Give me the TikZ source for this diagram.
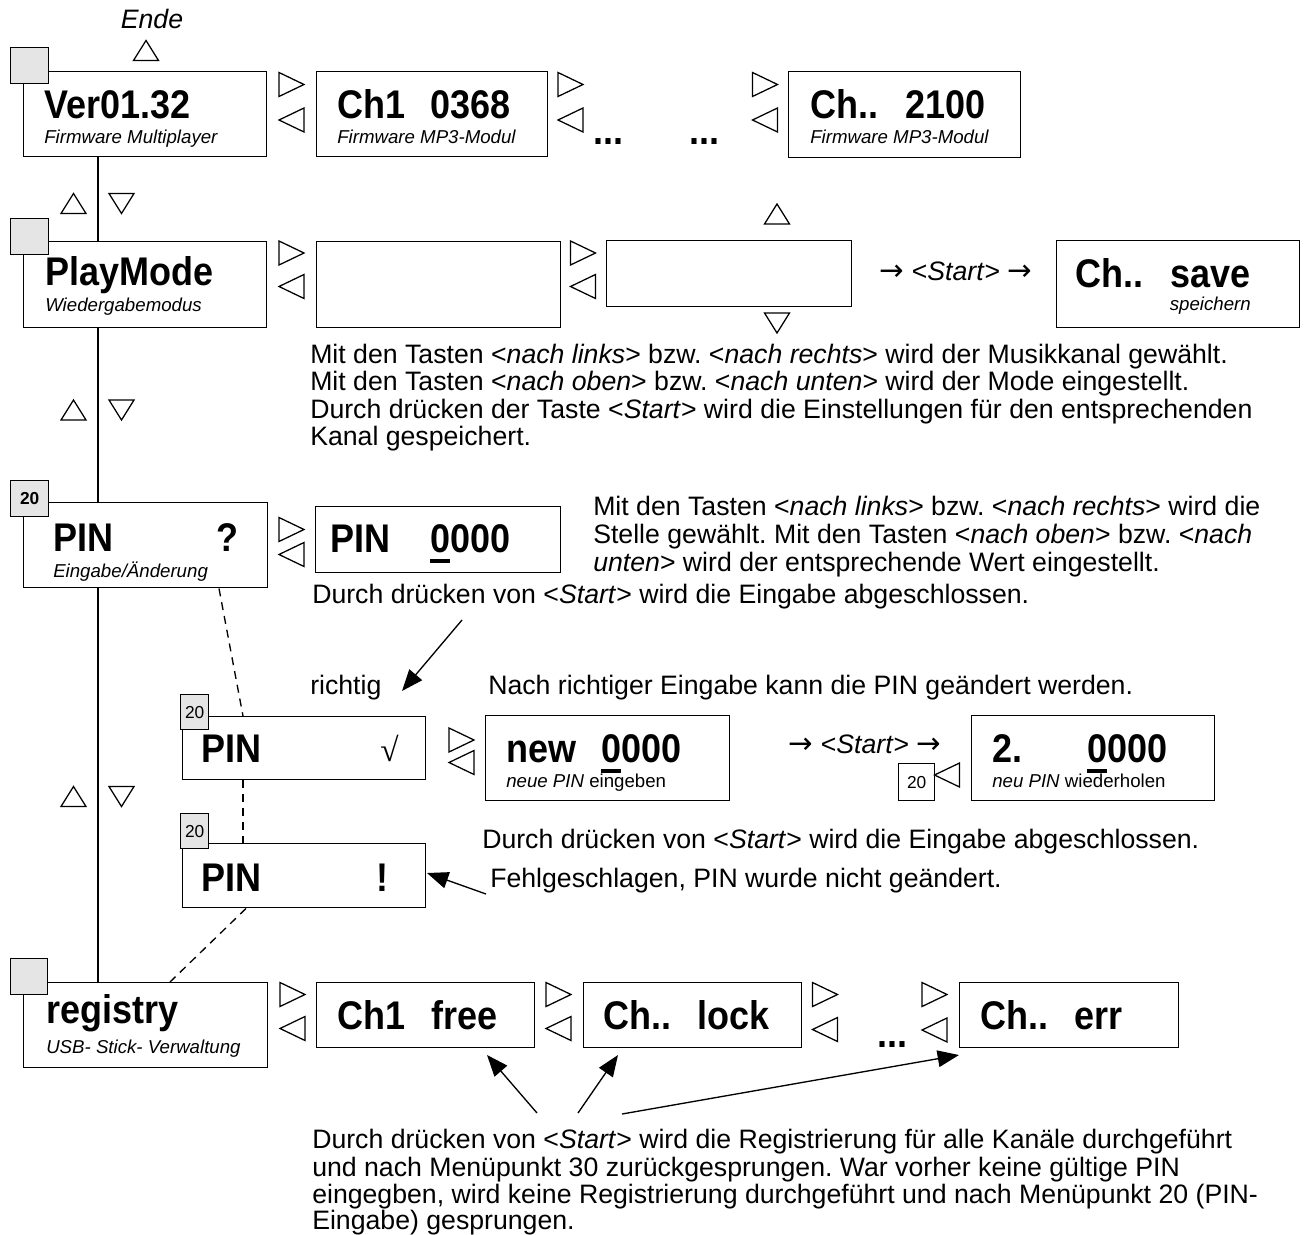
\documentclass[tikz,border=0pt]{standalone}
\usepackage{graphicx}
\usepackage{fontspec}
\setmainfont{Liberation Sans}
\newfontfamily\symfont{Liberation Serif}
\newfontfamily\arrowfont{DejaVu Sans}
\usetikzlibrary{arrows.meta}
\newcommand\arr{{\arrowfont\fontsize{22}{24}\selectfont →}}
\newcommand\nb[1]{\scalebox{0.9}[1]{#1}}
\begin{document}
\frenchspacing
\begin{tikzpicture}[x=0.75pt,y=-0.75pt,
  disp/.style={draw, line width=1.1pt, fill=white, inner sep=0pt, anchor=north west},
  wh/.style 2 args={minimum width=#1*0.75pt, minimum height=#2*0.75pt},
  graysq/.style={draw, line width=1pt, fill=black!10, inner sep=0pt, anchor=north west, font=\fontsize{13}{15}\selectfont},
  whitesq/.style={draw, line width=1pt, fill=white, inner sep=0pt, anchor=north west, font=\fontsize{13}{15}\selectfont},
  big/.style={inner sep=0pt, anchor=base west, font=\fontsize{30}{32}\selectfont\bfseries},
  bigr/.style={big, anchor=base east},
  sub/.style={inner sep=0pt, anchor=base west, font=\fontsize{14}{16}\selectfont\itshape},
  subn/.style={inner sep=0pt, anchor=base west, font=\fontsize{14}{16}\selectfont},
  txt/.style={inner sep=0pt, anchor=base west, font=\fontsize{20}{22}\selectfont},
  conn/.style={line width=1pt},
  dashconn/.style={line width=1pt, dash pattern=on 6pt off 4.5pt},
  pointer/.style={line width=1pt, -{Triangle[length=16pt,width=12.5pt]}},
  uline/.style={line width=2.6pt},
  tri/.style={line width=0.95pt},
  rtri/.pic={\draw[tri] (-12.5,-12) -- (12.5,0) -- (-12.5,12) -- cycle;},
  ltri/.pic={\draw[tri] (12.5,-12) -- (-12.5,0) -- (12.5,12) -- cycle;},
  utri/.pic={\draw[tri] (-12.5,10) -- (0,-10) -- (12.5,10) -- cycle;},
  dtri/.pic={\draw[tri] (-12.5,-10) -- (0,10) -- (12.5,-10) -- cycle;}
]
\useasboundingbox (0,0) rectangle (1305,1234);
\coordinate (vx) at (98,0);

% ---------------- Row 1 ----------------
\node[txt, anchor=base] (ende) at (152,29) {\itshape Ende};
\pic at (146,50.5) {utri};
\node[disp, wh={243}{85}] (ver) at (23,71) {};
\node[graysq, wh={38}{36}] (sq1) at (10,47) {};
\node[big] (vert) at (44,119) {\nb{Ver01.32}};
\node[sub] (vers) at (44,144) {Firmware Multiplayer};
\pic at (291.5,84.5) {rtri};
\pic at (291.5,120) {ltri};
\node[disp, wh={231}{85}] (ch1) at (316,71) {};
\node[big] (ch1a) at (337,119) {\nb{Ch1}};
\node[bigr] (ch1b) at (511,119) {\nb{0368}};
\node[sub] (ch1s) at (337,144) {Firmware MP3-Modul};
\pic at (570.5,84.5) {rtri};
\pic at (570.5,120) {ltri};
\node[big] (dots1) at (593,145) {\nb{...}};
\node[big] (dots2) at (689,145) {\nb{...}};
\pic at (765,84.5) {rtri};
\pic at (765,120) {ltri};
\node[disp, wh={232}{86}] (chn) at (788,71) {};
\node[big] (chna) at (810,119) {\nb{Ch..}};
\node[bigr] (chnb) at (986,119) {\nb{2100}};
\node[sub] (chns) at (810,144) {Firmware MP3-Modul};

% ---------------- Row 2 ----------------
\pic at (73.5,203.5) {utri};
\pic at (121.5,203.5) {dtri};
\node[disp, wh={243}{86}] (play) at (23,241) {};
\node[graysq, wh={38}{36}] (sq2) at (10,218) {};
\node[big] (playt) at (45,285) {\nb{PlayMode}};
\node[sub] (plays) at (45,311) {Wiedergabemodus};
\pic at (291.5,253) {rtri};
\pic at (291.5,286.5) {ltri};
\node[disp, wh={244}{86}] (chan) at (316,241) {};
\pic at (583,253) {rtri};
\pic at (583,286.5) {ltri};
\node[disp, wh={245}{66}] (mode) at (606,240) {};
\pic at (777,214) {utri};
\pic at (777,323) {dtri};
\node[txt, anchor=base] (start1) at (956,280) {\arr\ <\textit{Start}> \arr};
\node[disp, wh={243}{87}] (save) at (1056,240) {};
\node[big] (savea) at (1075,287) {\nb{Ch..}};
\node[bigr] (saveb) at (1251,287) {\nb{save}};
\node[sub, anchor=base east] (saves) at (1251,310) {speichern};

\node[txt] (t1a) at (310,363) {Mit den Tasten <\textit{nach links}> bzw. <\textit{nach rechts}> wird der Musikkanal gewählt.};
\node[txt] (t1b) at (310,390) {Mit den Tasten <\textit{nach oben}> bzw. <\textit{nach unten}> wird der Mode eingestellt.};
\node[txt] (t1c) at (310,418) {Durch drücken der Taste <\textit{Start}> wird die Einstellungen für den entsprechenden};
\node[txt] (t1d) at (310,445) {Kanal gespeichert.};

% ---------------- Row 3 ----------------
\pic at (73.5,410) {utri};
\pic at (121.5,410) {dtri};
\node[disp, wh={244}{85}] (pin) at (23,502) {};
\node[graysq, wh={38}{36}, font=\fontsize{13}{15}\selectfont\bfseries] (sq3) at (10,480) {20};
\node[big] (pint) at (53,551) {\nb{PIN}};
\node[bigr] (pinq) at (239,551) {\nb{?}};
\node[sub] (pins) at (53,577) {Eingabe/Änderung};
\pic at (291.5,529.5) {rtri};
\pic at (291.5,554.5) {ltri};
\node[disp, wh={245}{66}] (pinin) at (315,506) {};
\node[big] (pinina) at (330,552) {\nb{PIN}};
\node[big] (pininb) at (430,552) {\nb{0000}};
\draw[uline] (pininb.base west) ++(0,9) -- ++(20,0);
\node[txt] (t2a) at (593,515) {Mit den Tasten <\textit{nach links}> bzw. <\textit{nach rechts}> wird die};
\node[txt] (t2b) at (593,543) {Stelle gewählt. Mit den Tasten <\textit{nach oben}> bzw. <\textit{nach}};
\node[txt] (t2c) at (593,571) {\textit{unten}> wird der entsprechende Wert eingestellt.};
\node[txt] (t2d) at (312,603) {Durch drücken von <\textit{Start}> wird die Eingabe abgeschlossen.};

\coordinate (a1s) at (462,620);
\coordinate (a1e) at (402,691);
\draw[pointer] (a1s) -- (a1e);
\node[txt] (richtig) at (310,694) {richtig};
\node[txt] (t3) at (488,694) {Nach richtiger Eingabe kann die PIN geändert werden.};

% ---------------- Row 4 ----------------
\node[disp, wh={243}{63}] (pinok) at (182,716) {};
\node[graysq, wh={28}{35}] (sq4) at (180,694) {20};
\node[big] (pinokt) at (201,762) {\nb{PIN}};
\node[inner sep=0pt, anchor=base east, font=\fontsize{25}{27}\symfont] (pinokc) at (399,761) {√};
\pic at (461.5,740) {rtri};
\pic at (461.5,762.5) {ltri};
\node[disp, wh={244}{85}] (new) at (485,715) {};
\node[big] (newa) at (506,762) {\nb{new}};
\node[big] (newb) at (601,762) {\nb{0000}};
\draw[uline] (newb.base west) ++(0,9) -- ++(20,0);
\node[subn] (news) at (506,787) {\textit{neue PIN} eingeben};
\node[txt, anchor=base] (start2) at (865,753) {\arr\ <\textit{Start}> \arr};
\node[whitesq, wh={36}{37}] (sq5) at (898,763) {20};
\pic at (947,775) {ltri};
\node[disp, wh={243}{85}] (rep) at (971,715) {};
\node[big] (repa) at (992,762) {\nb{2.}};
\node[big] (repb) at (1087,762) {\nb{0000}};
\draw[uline] (repb.base west) ++(0,9) -- ++(20,0);
\node[subn] (reps) at (992,787) {\textit{neu PIN} wiederholen};

\pic at (73.5,796.5) {utri};
\pic at (121.5,796.5) {dtri};
\node[txt] (t4) at (482,848) {Durch drücken von <\textit{Start}> wird die Eingabe abgeschlossen.};

% ---------------- Row 5 ----------------
\node[disp, wh={243}{64}] (pinbad) at (182,843) {};
\node[graysq, wh={28}{35}] (sq6) at (180,813) {20};
\node[big] (pinbadt) at (201,891) {\nb{PIN}};
\node[bigr] (pinbadx) at (389,891) {\nb{!}};
\node[txt] (t5) at (490,887) {Fehlgeschlagen, PIN wurde nicht geändert.};
\coordinate (a2s) at (486,894);
\coordinate (a2e) at (427,873);
\draw[pointer] (a2s) -- (a2e);

% ---------------- Row 6 ----------------
\node[disp, wh={244}{85}] (reg) at (23,982) {};
\node[graysq, wh={37}{36}] (sq7) at (10,958) {};
\node[big] (regt) at (46,1023) {\nb{registry}};
\node[sub] (regs) at (46,1053) {USB- Stick- Verwaltung};
\pic at (292.5,994.5) {rtri};
\pic at (292.5,1028.5) {ltri};
\node[disp, wh={218}{65}] (free) at (316,982) {};
\node[big] (freea) at (337,1029) {\nb{Ch1}};
\node[bigr] (freeb) at (498,1029) {\nb{free}};
\pic at (558.5,994.5) {rtri};
\pic at (558.5,1028.5) {ltri};
\node[disp, wh={218}{65}] (lock) at (583,982) {};
\node[big] (locka) at (603,1029) {\nb{Ch..}};
\node[bigr] (lockb) at (770,1029) {\nb{lock}};
\pic at (825,994.5) {rtri};
\pic at (825,1029.5) {ltri};
\node[big] (dots3) at (877,1047) {\nb{...}};
\pic at (934.5,994.5) {rtri};
\pic at (934.5,1030) {ltri};
\node[disp, wh={219}{65}] (err) at (959,982) {};
\node[big] (erra) at (980,1029) {\nb{Ch..}};
\node[bigr] (errb) at (1123,1029) {\nb{err}};

\coordinate (b1s) at (537,1113);
\coordinate (b1e) at (487,1055);
\coordinate (b2s) at (578,1113);
\coordinate (b2e) at (618,1055);
\coordinate (b3s) at (622,1114);
\coordinate (b3e) at (959,1055);
\draw[pointer] (b1s) -- (b1e);
\draw[pointer] (b2s) -- (b2e);
\draw[pointer] (b3s) -- (b3e);

\node[txt] (t6a) at (312,1148) {Durch drücken von <\textit{Start}> wird die Registrierung für alle Kanäle durchgeführt};
\node[txt] (t6b) at (312,1176) {und nach Menüpunkt 30 zurückgesprungen. War vorher keine gültige PIN};
\node[txt] (t6c) at (312,1203) {eingegben, wird keine Registrierung durchgeführt und nach Menüpunkt 20 (PIN-};
\node[txt] (t6d) at (312,1229) {Eingabe) gesprungen.};

% ---------------- connectors ----------------
\draw[conn] (vx |- ver.south) -- (vx |- play.north);
\draw[conn] (vx |- play.south) -- (vx |- pin.north);
\draw[conn] (vx |- pin.south) -- (vx |- reg.north);
\draw[dashconn] ([xshift=196*0.75pt]pin.south west) -- ([xshift=61*0.75pt]pinok.north west);
\draw[dashconn] ([xshift=61*0.75pt]pinok.south west) -- ([xshift=61*0.75pt]pinbad.north west);
\draw[dashconn] ([xshift=64*0.75pt]pinbad.south west) -- ([xshift=147*0.75pt]reg.north west);
\end{tikzpicture}
\end{document}
